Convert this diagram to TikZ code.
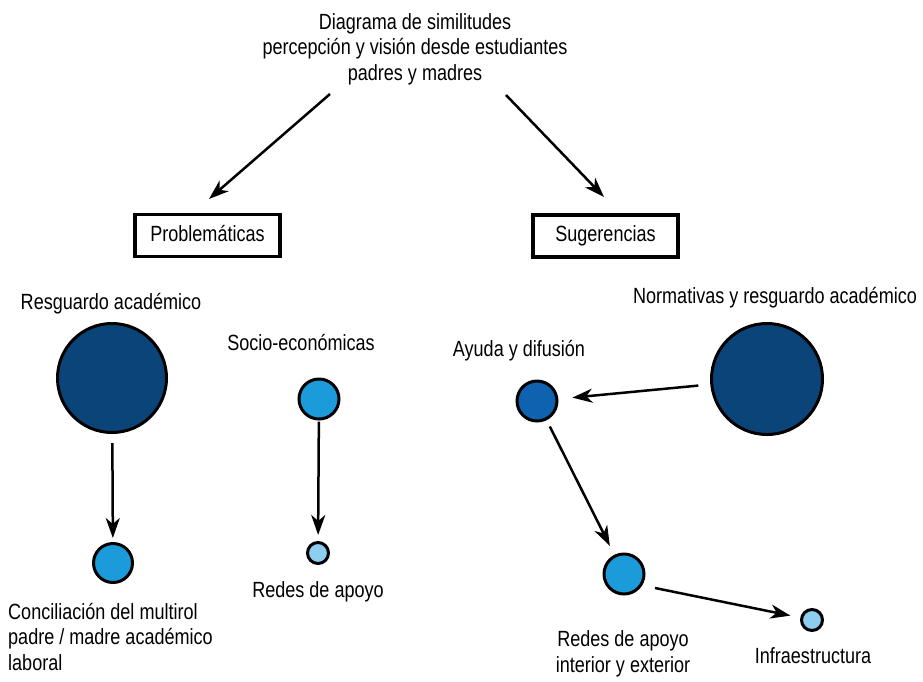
\documentclass[tikz,border=0pt]{standalone}
\usepackage{fontspec}
\setmainfont{Liberation Sans}[FakeStretch=0.82]
\usetikzlibrary{arrows.meta}
\definecolor{cdark}{HTML}{0B4479}
\definecolor{cmid}{HTML}{0E62B0}
\definecolor{cbright}{HTML}{1B9BDA}
\definecolor{clight}{HTML}{8DCDF0}
\tikzset{
  lbl/.style={inner sep=0pt, anchor=base, font=\fontsize{22}{26}\selectfont},
  mlbl/.style={inner sep=0pt, anchor=base, font=\fontsize{22}{25.5}\selectfont},
  catbox/.style={draw, line width=3.5pt, minimum width=145pt, minimum height=42pt, inner sep=0pt,
    text height=16pt, text depth=5pt, font=\fontsize{22}{26}\selectfont},
  dot/.style={circle, draw, line width=3pt, inner sep=0pt},
  arr/.style={line width=2.5pt, -{Stealth[length=20pt,width=14pt,inset=6pt]}}
}
\begin{document}
\begin{tikzpicture}[x=1pt,y=-1pt]
\useasboundingbox (0,0) rectangle (923,681);
% title
\node[mlbl, align=center] (title) at (415,80) {Diagrama de similitudes\\percepción y visión desde estudiantes\\padres y madres};
\coordinate (tl) at (330,94);
\coordinate (tlt) at (209,199);
\coordinate (tr) at (506,95);
\coordinate (trt) at (604,197);
\draw[arr] (tl) -- (tlt);
\draw[arr] (tr) -- (trt);
% boxes
\node[catbox] (prob) at (207.5,235.5) {Problemáticas};
\node[catbox] (sug) at (605.5,236) {Sugerencias};
% circles
\node[dot, fill=cdark, minimum size=109pt] (rg) at (112,378) {};
\node[dot, fill=cbright, minimum size=39pt] (cm) at (113,563) {};
\node[dot, fill=cbright, minimum size=40pt] (se) at (319,399) {};
\node[dot, fill=clight, minimum size=21pt] (ra) at (318,553) {};
\node[dot, fill=cdark, minimum size=111pt] (nr) at (767,379) {};
\node[dot, fill=cmid, minimum size=40pt] (ad) at (537,401) {};
\node[dot, fill=cbright, minimum size=40pt] (ri) at (624,574) {};
\node[dot, fill=clight, minimum size=21pt] (inf) at (812,620) {};
% labels
\node[lbl] (rgl) at (111,309) {Resguardo académico};
\node[lbl] (nrl) at (775,303) {Normativas y resguardo académico};
\node[lbl] (sel) at (301,350) {Socio-económicas};
\node[lbl] (adl) at (519,356) {Ayuda y difusión};
\node[mlbl, align=left, anchor=base west] (cml) at (8,670) {Conciliación del multirol\\padre / madre académico\\laboral};
\node[lbl] (ral) at (318,597) {Redes de apoyo};
\node[mlbl, align=center] (ril) at (623,672) {Redes de apoyo\\interior y exterior};
\node[lbl] (infl) at (813,663) {Infraestructura};
% connectors
\draw[arr, shorten <=9pt, shorten >=4pt] (rg) -- (cm);
\draw[arr, shorten <=1pt, shorten >=6pt] (se) -- (ra);
\draw[arr, shorten <=12pt, shorten >=14pt] (nr) -- (ad);
\draw[arr, shorten <=7pt, shorten >=10pt] (ad) -- (ri);
\draw[arr, shorten <=13pt, shorten >=10pt] (ri.-32) -- (inf);
\end{tikzpicture}
\end{document}
